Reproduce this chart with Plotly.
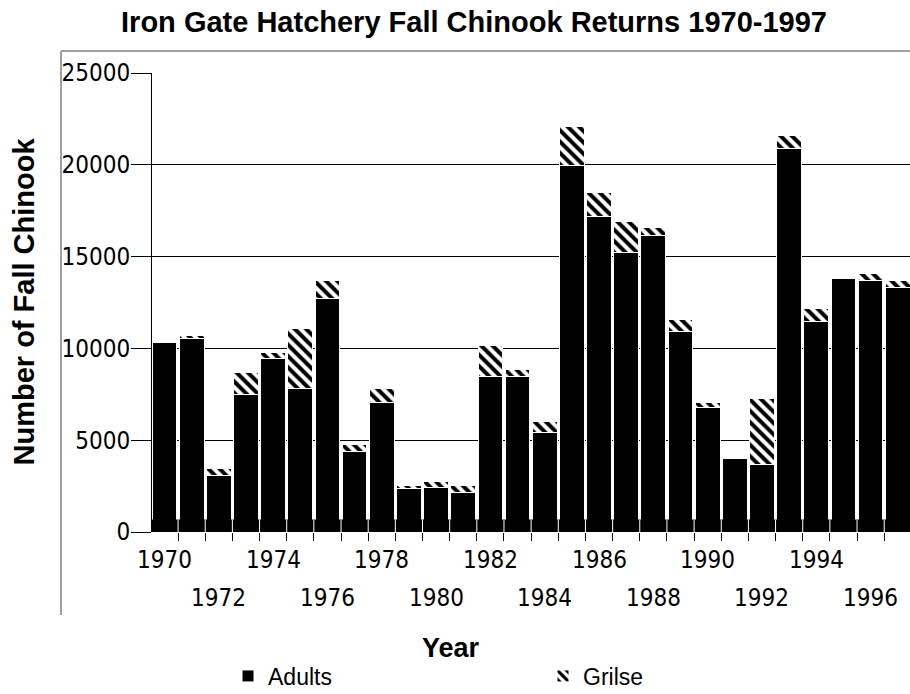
import plotly.graph_objects as go

years = list(range(1970, 1998))
adults = [10300, 10520, 3095, 7470, 9430, 7800, 12720, 4400, 7035, 2350,
          2440, 2135, 8450, 8450, 5400, 19960, 17170, 15240, 16165, 10940,
          6800, 3985, 3675, 20870, 11480, 13790, 13700, 13335]
grilse = [0, 180, 350, 1200, 330, 3270, 980, 365, 765, 200,
          330, 415, 1725, 400, 635, 2100, 1300, 1690, 400, 635,
          235, 0, 3575, 730, 675, 0, 380, 380]
label_years = list(range(1970, 1998, 2))
y_ticks = [0, 5000, 10000, 15000, 20000, 25000]

NARROW = "DejaVu Sans Condensed, Liberation Sans Narrow, Liberation Sans, sans-serif"
SANS = "Liberation Sans, Arial, sans-serif"

# pixel geometry helpers (plot area)
L, R, T, B = 152, 910, 73, 532
W, H = R - L, B - T
px = lambda x: (x - L) / W
py = lambda y: (B - y) / H

fig = go.Figure()
fig.add_trace(go.Bar(x=years, y=adults, name="Adults",
                     marker=dict(color="black", line=dict(color="white", width=1))))
fig.add_trace(go.Bar(x=years, y=grilse, name="Grilse",
                     marker=dict(color="white", line=dict(color="white", width=1),
                                 pattern=dict(shape="\\", fgcolor="black", bgcolor="white",
                                              size=8, solidity=0.5, fillmode="replace"))))

shapes = []
# solid base band along the zero line
shapes.append(dict(type="rect", xref="paper", yref="y", x0=0, x1=1, y0=0, y1=680,
                   fillcolor="black", line=dict(width=0), layer="above"))
for yr in years[:-1]:
    shapes.append(dict(type="line", xref="x", yref="y", x0=yr + 0.5, x1=yr + 0.5, y0=0, y1=680,
                       line=dict(color="white", width=1), layer="above"))
# outer frame (top and left)
shapes.append(dict(type="line", xref="paper", yref="paper", x0=px(61), x1=1.0,
                   y0=py(51), y1=py(51), line=dict(color="#a0a0a0", width=2)))
shapes.append(dict(type="line", xref="paper", yref="paper", x0=px(61), x1=px(61),
                   y0=py(51), y1=py(615), line=dict(color="#a0a0a0", width=2)))

annotations = []
for yr in label_years:
    row = 0 if (yr - 1970) % 4 == 0 else 1
    annotations.append(dict(x=yr, xref="x", y=py(559.5 if row == 0 else 597.5), yref="paper",
                             text=str(yr), showarrow=False, xanchor="center", yanchor="middle",
                             font=dict(family=NARROW, size=24, color="black")))
annotations.append(dict(x=px(451), y=py(648), xref="paper", yref="paper", text="<b>Year</b>",
                        showarrow=False, xanchor="center", yanchor="middle",
                        font=dict(family=SANS, size=27, color="black")))
annotations.append(dict(x=px(23), y=py(301.5), xref="paper", yref="paper",
                        text="<b>Number of Fall Chinook</b>", textangle=-90,
                        showarrow=False, xanchor="center", yanchor="middle",
                        font=dict(family=SANS, size=29, color="black")))

fig.update_layout(
    width=910, height=694,
    margin=dict(l=L, r=910 - R, t=T, b=694 - B, pad=0, autoexpand=False),
    paper_bgcolor="white", plot_bgcolor="white",
    barmode="stack", bargap=0.09,
    title=dict(text="<b>Iron Gate Hatchery Fall Chinook Returns 1970-1997</b>",
               x=474 / 910, xanchor="center", xref="container",
               y=1 - 21.5 / 694, yanchor="middle", yref="container",
               font=dict(family=SANS, size=29, color="black")),
    xaxis=dict(range=[1969.54, 1997.45], tickvals=[y + 0.5 for y in years[:-1]],
               ticktext=[""] * (len(years) - 1), ticks="outside", ticklen=8,
               tickcolor="black", tickwidth=1, showgrid=False, zeroline=False,
               showline=False, automargin=False),
    yaxis=dict(range=[0, 25000], tickvals=y_ticks, ticktext=[str(v) for v in y_ticks],
               ticks="outside", ticklen=20, tickcolor="black", tickwidth=1,
               ticklabelstandoff=-4,
               showgrid=True, gridcolor="black", gridwidth=1, zeroline=False,
               showline=True, linecolor="black", linewidth=1, automargin=False,
               tickfont=dict(family=NARROW, size=24, color="black")),
    showlegend=True,
    legend=dict(orientation="h", x=px(228), xanchor="left", y=py(676), yanchor="middle",
                entrywidth=270, entrywidthmode="pixels", traceorder="normal",
                font=dict(family=SANS, size=23, color="black"), bgcolor="rgba(0,0,0,0)"),
    shapes=shapes, annotations=annotations,
)

fig.write_html("out.html", config={"displayModeBar": False},
               post_script="document.body.style.margin='0';document.body.style.overflow='hidden';")
